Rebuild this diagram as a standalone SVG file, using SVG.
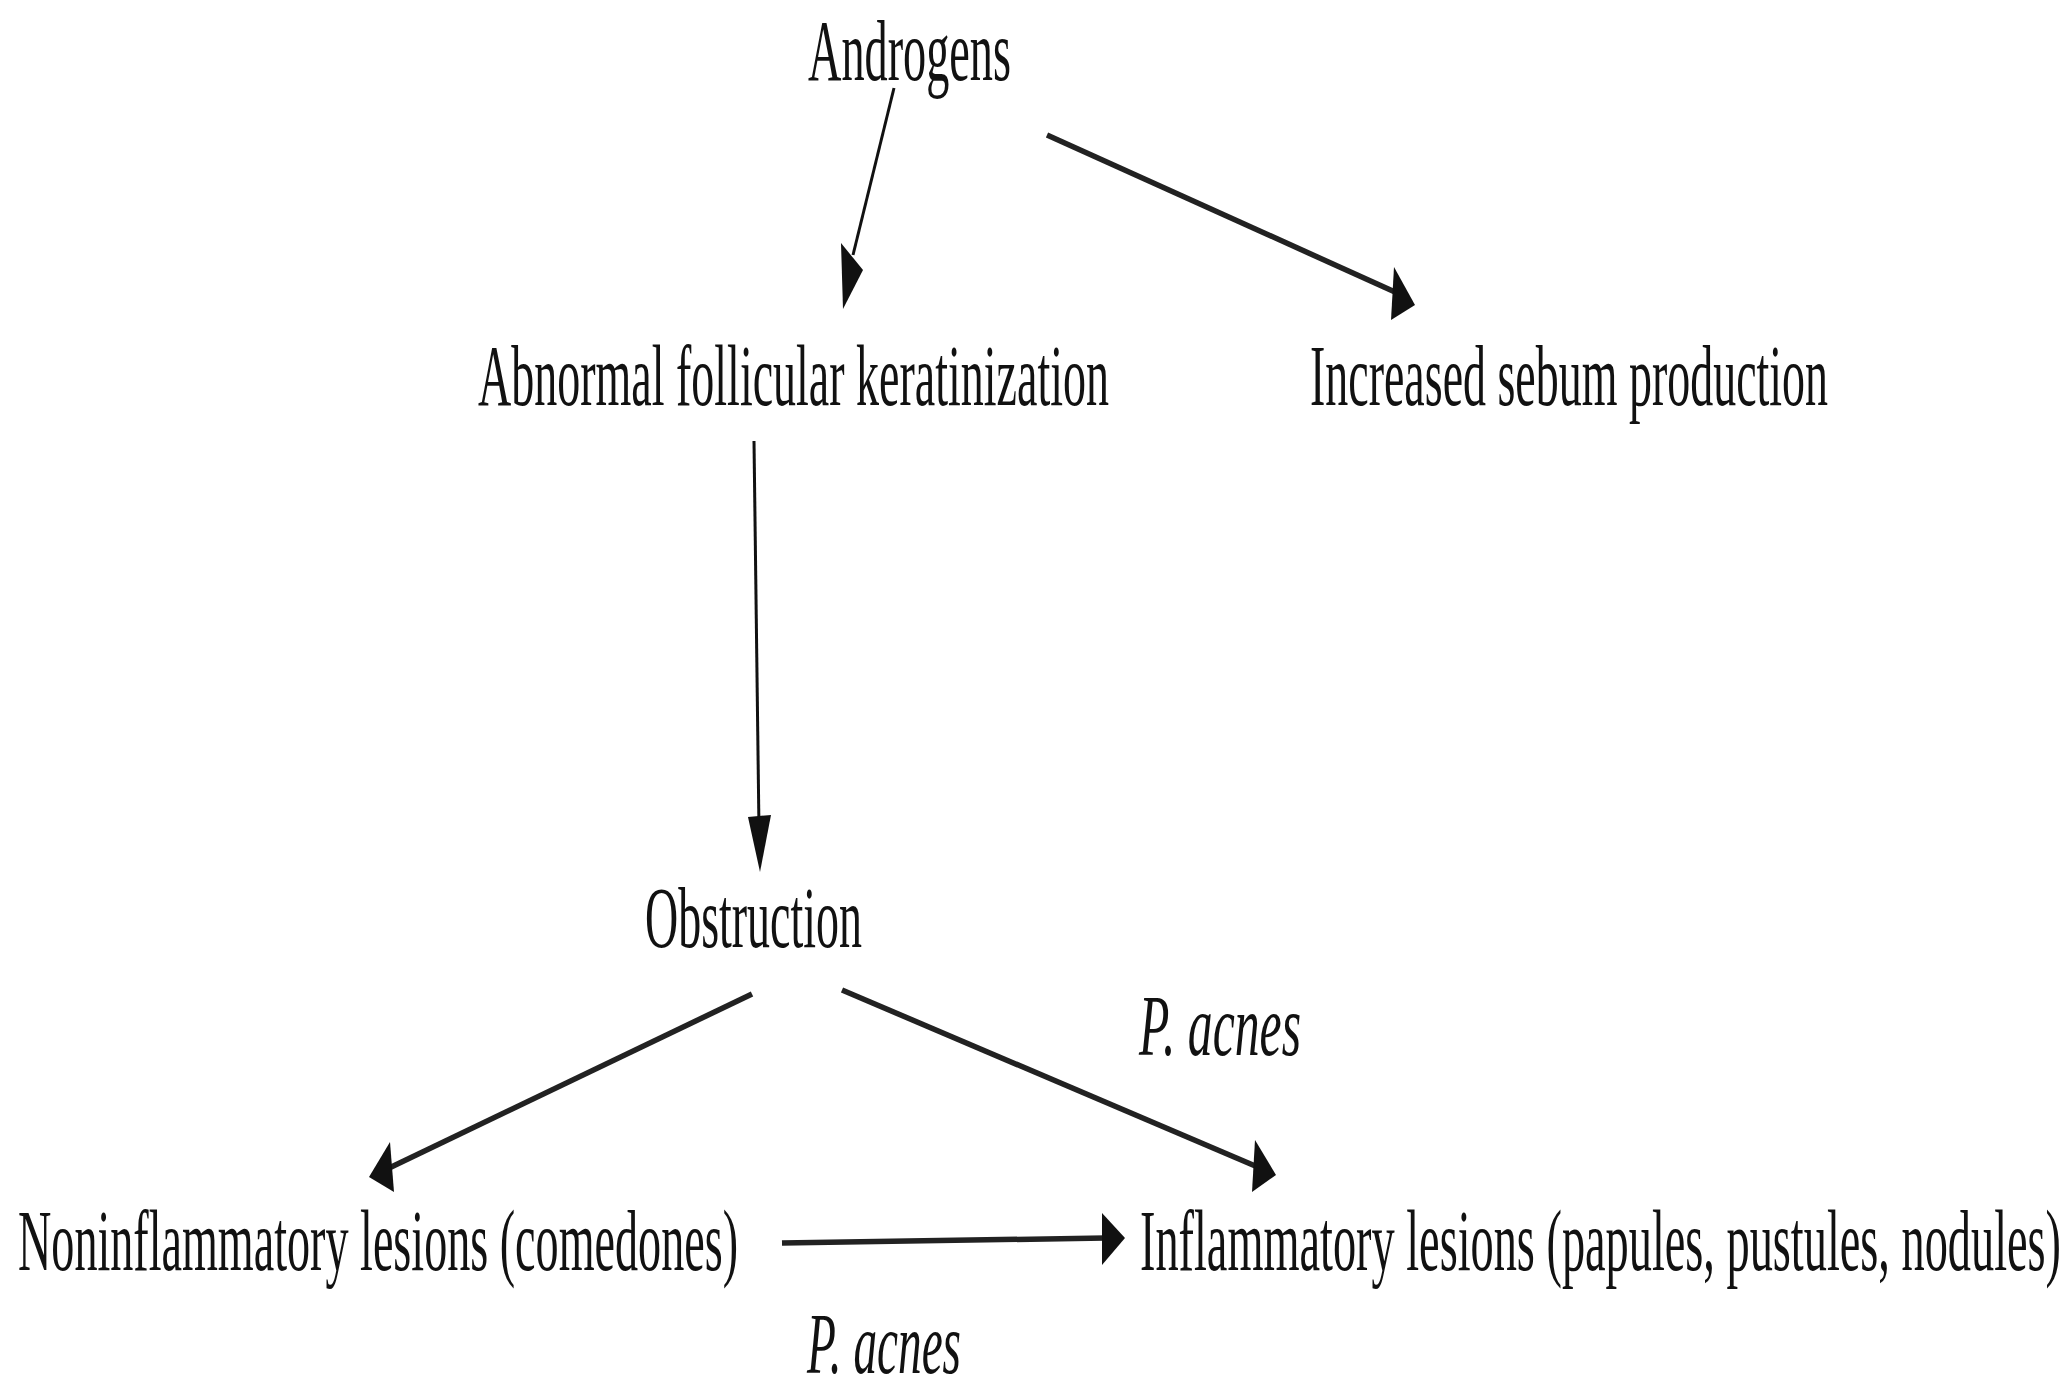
<svg xmlns="http://www.w3.org/2000/svg" width="2069" height="1391" viewBox="0 0 2069 1391">
<style>
.t{font-family:"Liberation Serif","Times New Roman",serif;font-size:86px;fill:#111}
.i{font-style:italic}
.thin{stroke:#111;stroke-width:3;fill:none}
.thick{stroke:#222;stroke-width:5.5;fill:none}
.head{fill:#111}
</style>
<rect width="2069" height="1391" fill="#fff"/>
<g id="androgens"><text class="t" transform="translate(808,80) scale(0.5,1)" x="0" y="0" textLength="406" lengthAdjust="spacingAndGlyphs">Androgens</text></g>
<g id="abnormal"><text class="t" transform="translate(478,405) scale(0.5,1)" x="0" y="0" textLength="1262" lengthAdjust="spacingAndGlyphs">Abnormal follicular keratinization</text></g>
<g id="sebum"><text class="t" transform="translate(1310,405) scale(0.5,1)" x="0" y="0" textLength="1036" lengthAdjust="spacingAndGlyphs">Increased sebum production</text></g>
<g id="obstruction"><text class="t" transform="translate(645,947) scale(0.5,1)" x="0" y="0" textLength="434" lengthAdjust="spacingAndGlyphs">Obstruction</text></g>
<g id="noninflammatory"><text class="t" transform="translate(18,1270) scale(0.5,1)" x="0" y="0" textLength="1440" lengthAdjust="spacingAndGlyphs">Noninflammatory lesions (comedones)</text></g>
<g id="inflammatory"><text class="t" transform="translate(1140,1270) scale(0.5,1)" x="0" y="0" textLength="1842" lengthAdjust="spacingAndGlyphs">Inflammatory lesions (papules, pustules, nodules)</text></g>
<g id="connectors">
<line class="thin" x1="894" y1="88" x2="853" y2="255"/>
<polygon class="head" points="841,243 863,270 843,309"/>
<line class="thick" x1="1047" y1="135" x2="1395" y2="292"/>
<polygon class="head" points="1394,267 1415,305 1391,320"/>
<line class="thin" x1="754" y1="441" x2="759" y2="830"/>
<polygon class="head" points="748,817 771,815 760,872"/>
<line class="thick" x1="752" y1="994" x2="385" y2="1170"/>
<polygon class="head" points="390,1142 369,1177 394,1192"/>
<line class="thick" x1="842" y1="990" x2="1260" y2="1168"/>
<polygon class="head" points="1255,1140 1276,1175 1252,1192"/>
<line class="thick" x1="782" y1="1243" x2="1105" y2="1238"/>
<polygon class="head" points="1102,1213 1125,1238 1102,1265"/>
<text class="t i" transform="translate(1139,1055) scale(0.5,1)" x="0" y="0" textLength="324" lengthAdjust="spacingAndGlyphs">P. acnes</text>
<text class="t i" transform="translate(807,1373) scale(0.5,1)" x="0" y="0" textLength="308" lengthAdjust="spacingAndGlyphs">P. acnes</text>
</g>
</svg>
